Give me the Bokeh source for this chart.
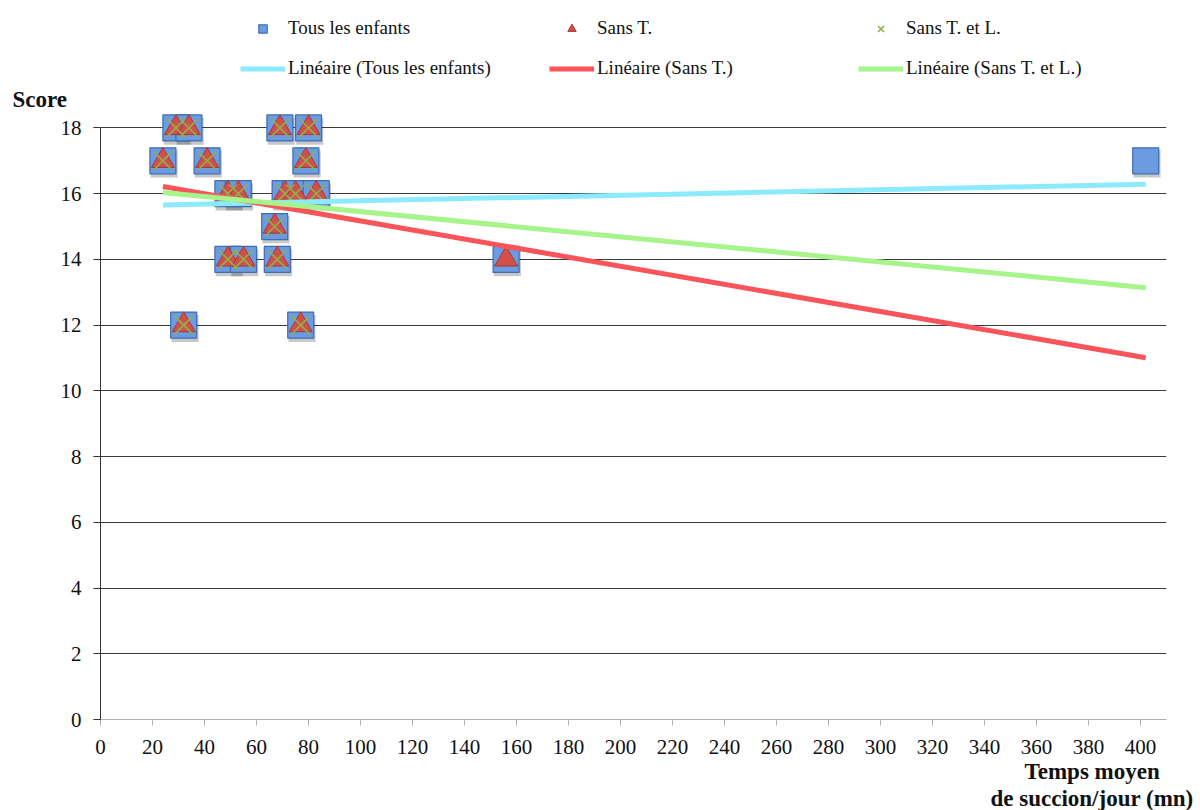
import numpy as np
from bokeh.plotting import figure
from bokeh.layouts import column
from bokeh.models import (ColumnDataSource, Legend, LegendItem, Title,
                          SingleIntervalTicker, Range1d)
from bokeh.transform import dodge
from bokeh.embed import file_html
from bokeh.resources import INLINE

# ---- data ----
# "Sans T. et L." children
x_tl = [29, 34, 69, 80, 24, 41, 79, 49, 53, 71, 75, 83, 67, 49, 55, 68, 32, 77]
y_tl = [18, 18, 18, 18, 17, 17, 17, 16, 16, 16, 16, 16, 15, 14, 14, 14, 12, 12]
# extra child in "Sans T." only
x_t_extra = [156]
y_t_extra = [14]
# extra child in "Tous les enfants" only
x_all_extra = [402]
y_all_extra = [17]

x_t = x_tl + x_t_extra
y_t = y_tl + y_t_extra
x_all = x_t + x_all_extra
y_all = y_t + y_all_extra

labels = ["Tous les enfants", "Sans T.", "Sans T. et L.",
          "Linéaire (Tous les enfants)", "Linéaire (Sans T.)", "Linéaire (Sans T. et L.)"]
y_title = "Score"
x_title_lines = ["Temps moyen", "de succion/jour (mn)"]

x_ticks_interval = 20
y_ticks_interval = 2

# ---- trend lines (least squares) ----
def trend(xs, ys):
    a, b = np.polyfit(xs, ys, 1)
    xe = [min(x_all), max(x_all)]
    return xe, [a * v + b for v in xe]

tx_all, ty_all = trend(x_all, y_all)
tx_t, ty_t = trend(x_t, y_t)
tx_tl, ty_tl = trend(x_tl, y_tl)

FONT = "Liberation Serif"
W = 1200
TOP_H = 111
MAIN_H = 699

SQ = dict(marker="square", fill_color="#6b9be0", line_color="#3d6db3", line_width=1.2)
TR = dict(marker="triangle", fill_color="#d0504c", line_color="#a53a37", line_width=1)
XX = dict(marker="x", line_color="#8fb04a", line_width=1.6)
L1 = dict(line_color="#8ceafd", line_width=5)
L2 = dict(line_color="#f8545a", line_width=5)
L3 = dict(line_color="#a6f48a", line_width=5)

src_all = ColumnDataSource(dict(x=x_all, y=y_all))
src_t = ColumnDataSource(dict(x=x_t, y=y_t))
src_tl = ColumnDataSource(dict(x=x_tl, y=y_tl))

# ---------------- main chart ----------------
p = figure(width=W, height=MAIN_H, output_backend="svg", toolbar_location=None,
           x_range=Range1d(0, 410), y_range=Range1d(0, 18.5),
           min_border_left=100, min_border_right=34, min_border_bottom=0,
           min_border_top=0)
p.outline_line_color = None

p.xgrid.grid_line_color = None
p.ygrid.grid_line_color = "#3a3a3a"
p.ygrid.grid_line_width = 1
p.ygrid.ticker = SingleIntervalTicker(interval=y_ticks_interval)

p.xaxis.ticker = SingleIntervalTicker(interval=x_ticks_interval)
p.yaxis.ticker = SingleIntervalTicker(interval=y_ticks_interval)
p.yaxis.bounds = (0, 18)
p.xaxis.axis_line_color = "#b0b0b0"
p.xaxis.major_tick_line_color = "#b0b0b0"
p.xaxis.major_tick_out = 6
p.xaxis.major_tick_in = 0
p.xaxis.minor_tick_line_color = None
p.yaxis.axis_line_color = "#333333"
p.yaxis.major_tick_line_color = "#333333"
p.yaxis.major_tick_out = 7
p.yaxis.major_tick_in = 0
p.yaxis.minor_tick_line_color = None
for ax in (p.xaxis, p.yaxis):
    ax.major_label_text_font = FONT
    ax.major_label_text_font_size = "21px"
    ax.major_label_text_color = "#111111"
p.xaxis.major_label_standoff = 14
p.yaxis.major_label_standoff = 12

p.scatter(x=dodge("x", 0.5, range=p.x_range), y=dodge("y", -0.1, range=p.y_range),
          source=src_all, marker="square", size=27,
          fill_color="black", fill_alpha=0.22, line_color=None)
p.scatter("x", "y", source=src_all, size=26, **SQ)
p.scatter("x", "y", source=src_t, size=23, **TR)
p.scatter("x", "y", source=src_tl, size=26, **XX)

p.line(tx_all, ty_all, **L1)
p.line(tx_t, ty_t, **L2)
p.line(tx_tl, ty_tl, **L3)

# x-axis title: two lines centred near x = 1091 px (left-aligned titles shifted by offset)
for line, off in zip(x_title_lines, [924, 890]):
    p.add_layout(Title(text=line, align="left", offset=off, standoff=0,
                       text_font=FONT, text_font_style="bold", text_font_size="23px",
                       text_color="#111111"), "below")

# ---------------- top strip: legend + "Score" ----------------
top = figure(width=W, height=TOP_H, output_backend="svg", toolbar_location=None,
             x_axis_type=None, y_axis_type=None,
             x_range=Range1d(0, 410), y_range=Range1d(0, 18.5),
             min_border_left=100, min_border_right=34, min_border_top=0,
             min_border_bottom=0)
top.outline_line_color = None
top.xgrid.visible = False
top.ygrid.visible = False
g_sq = top.scatter("x", "y", source=src_all, size=26, visible=False, **SQ)
g_tr = top.scatter("x", "y", source=src_t, size=23, visible=False, **TR)
g_x = top.scatter("x", "y", source=src_tl, size=26, visible=False, **XX)
g_l1 = top.line(tx_all, ty_all, visible=False, **L1)
g_l2 = top.line(tx_t, ty_t, visible=False, **L2)
g_l3 = top.line(tx_tl, ty_tl, visible=False, **L3)

top.add_layout(Title(text=y_title, align="left", offset=-88, standoff=0,
                     text_font=FONT, text_font_style="bold", text_font_size="23px",
                     text_color="#111111"), "below")

legend = Legend(items=[
    LegendItem(label=labels[0], renderers=[g_sq]),
    LegendItem(label=labels[1], renderers=[g_tr]),
    LegendItem(label=labels[2], renderers=[g_x]),
    LegendItem(label=labels[3], renderers=[g_l1]),
    LegendItem(label=labels[4], renderers=[g_l2]),
    LegendItem(label=labels[5], renderers=[g_l3]),
], orientation="horizontal", ncols=3, location=(140, 5),
    glyph_width=45, glyph_height=21, label_height=21, label_width=243,
    label_standoff=3, spacing=18, padding=0, margin=0,
    border_line_color=None, background_fill_alpha=0,
    label_text_font=FONT, label_text_font_size="19px", label_text_color="#111111")
top.add_layout(legend, "center")

layout = column(top, p, spacing=0)
open("out.html", "w").write(file_html(layout, INLINE))
